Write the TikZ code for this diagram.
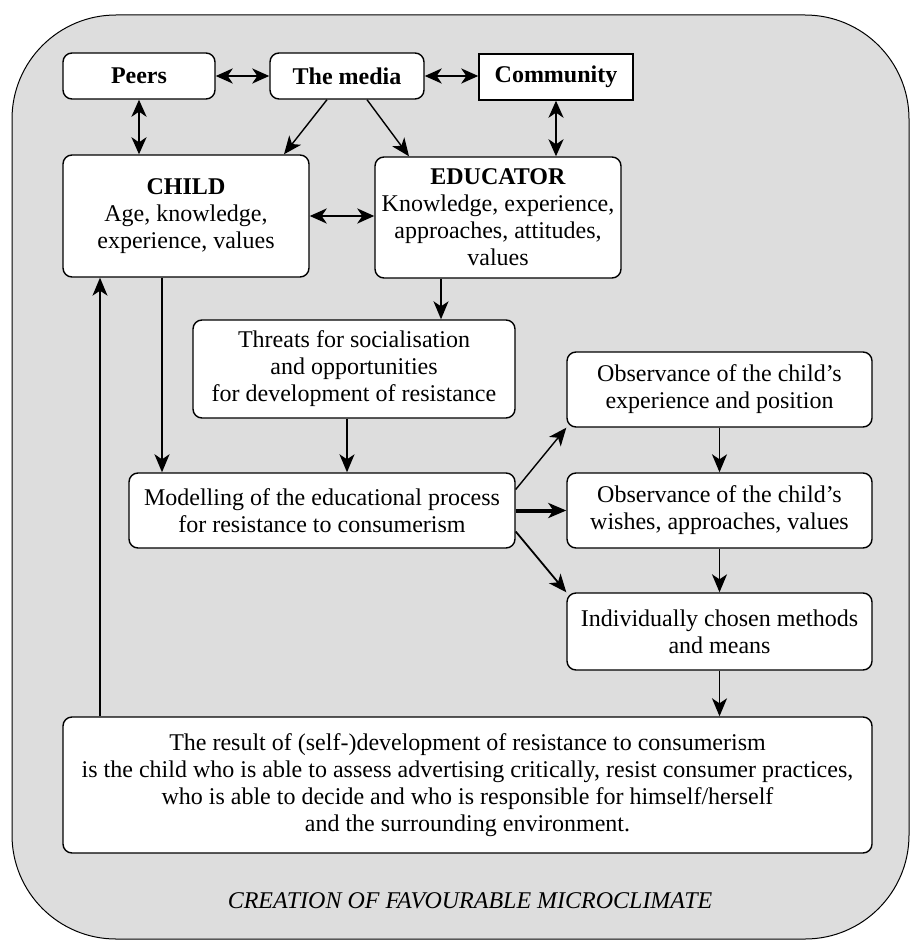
\documentclass[tikz,border=0pt]{standalone}
\usepackage{fontspec}
\setmainfont{Liberation Serif}
\usepackage{xcolor}
\usepackage{tikz}
\usetikzlibrary{arrows.meta,calc}
\definecolor{bggray}{RGB}{221,221,221}
\tikzset{
	box/.style={draw,fill=white,line width=0.7pt,rounded corners=4.5pt,align=center,inner sep=0pt},
	arr/.style={-{Stealth[length=9pt,width=7.5pt,inset=2.5pt]},line width=0.8pt},
	dbl/.style={{Stealth[length=8.5pt,width=7.5pt,inset=2.5pt]}-{Stealth[length=8.5pt,width=7.5pt,inset=2.5pt]},line width=1.2pt}
}

\begin{document}
\begin{tikzpicture}[x=0.5pt,y=-0.5pt,font=\fontsize{12}{13.5}\selectfont]
		\useasboundingbox (0,0) rectangle (910,941);
		\draw[fill=bggray,line width=0.5pt,rounded corners=52pt] (12,15) rectangle (909,939);
		%
		\node[box,minimum width=76pt,minimum height=23pt] (Peers) at (139,76) {\textbf{Peers}};
		\node[box,minimum width=77pt,minimum height=23pt] (Media) at (347,76) {\textbf{The media}};
		\node[box,sharp corners,minimum width=77pt,minimum height=23pt] (Comm) at (556,77) {\textbf{Community}};
		\node[box,minimum width=123pt,minimum height=61pt] (Child) at (186,216) {\textbf{CHILD}\\Age, knowledge,\\experience, values};
		\node[box,minimum width=123pt,minimum height=60.5pt] (Edu) at (498,217.5) {\textbf{EDUCATOR}\\Knowledge, experience,\\approaches, attitudes,\\values};
		\node[box,minimum width=161pt,minimum height=49pt] (Thr) at (354,369) {Threats for socialisation\\and opportunities\\for development of resistance};
		\node[box,minimum width=193pt,minimum height=37.5pt] (Mod) at (322,510.5) {Modelling of the educational process\\for resistance to consumerism};
		\node[box,minimum width=152.5pt,minimum height=37.5pt] (Obs1) at (719.5,389.5) {Observance of the child's\\experience and position};
		\node[box,minimum width=152.5pt,minimum height=37.5pt] (Obs2) at (719.5,510.5) {Observance of the child's\\wishes, approaches, values};
		\node[box,minimum width=152.5pt,minimum height=38.5pt] (Ind) at (719.5,631.5) {Individually chosen methods\\and means};
		\node[box,minimum width=404.5pt,minimum height=68pt] (Res) at (467.5,785) {The result of (self-)development of resistance to consumerism\\is the child who is able to assess advertising critically, resist consumer practices,\\who is able to decide and who is responsible for himself/herself\\and the surrounding environment.};
		\node (Clim) at (470,901) {\itshape CREATION OF FAVOURABLE MICROCLIMATE};
		%
		\coordinate (xf) at (100,0);
		\coordinate (xc) at (162,0);
		\coordinate (xe) at (441,0);
		\coordinate (xt) at (347,0);
		%
		\path[dbl]
		% horizontal arrows
		(Peers) edge (Media)
		(Media.east) edge (Media.east -| Comm.west)
		(Child.east) edge (Child.east -| Edu.west)
		% vertical arrows
		(Peers.south) edge (Peers.south |- Child.north)
		(Comm.south) edge (Comm.south |- Edu.north);
		%
		\path[arr]
		% from the media
		($(Media.south)+(-20,0)$) edge[line width=0.7pt] ($(Child.north)+(98,0)$)
		($(Media.south)+(20,0)$) edge[line width=0.7pt] ($(Edu.north)+(-89,0)$)
		% down to modelling
		(Edu.south -| xe) edge (Thr.north -| xe)
		(Thr.south -| xt) edge (Mod.north -| xt)
		(Child.south -| xc) edge[line width=1.1pt] (Mod.north -| xc)
		% from modelling
		($(Mod.east)+(0,-21)$) edge[line width=0.7pt] (Obs1.south west)
		(Mod.east) edge[line width=2pt] (Obs2.west)
		($(Mod.east)+(0,21)$) edge[line width=0.9pt] (Ind.north west)
		% right column
		(Obs1) edge (Obs2)
		(Obs2) edge (Ind)
		(Ind.south) edge (Ind.south |- Res.north)
		% back to the child
		(Res.north -| xf) edge[line width=0.6pt] (Child.south -| xf);
\end{tikzpicture}
\end{document}
